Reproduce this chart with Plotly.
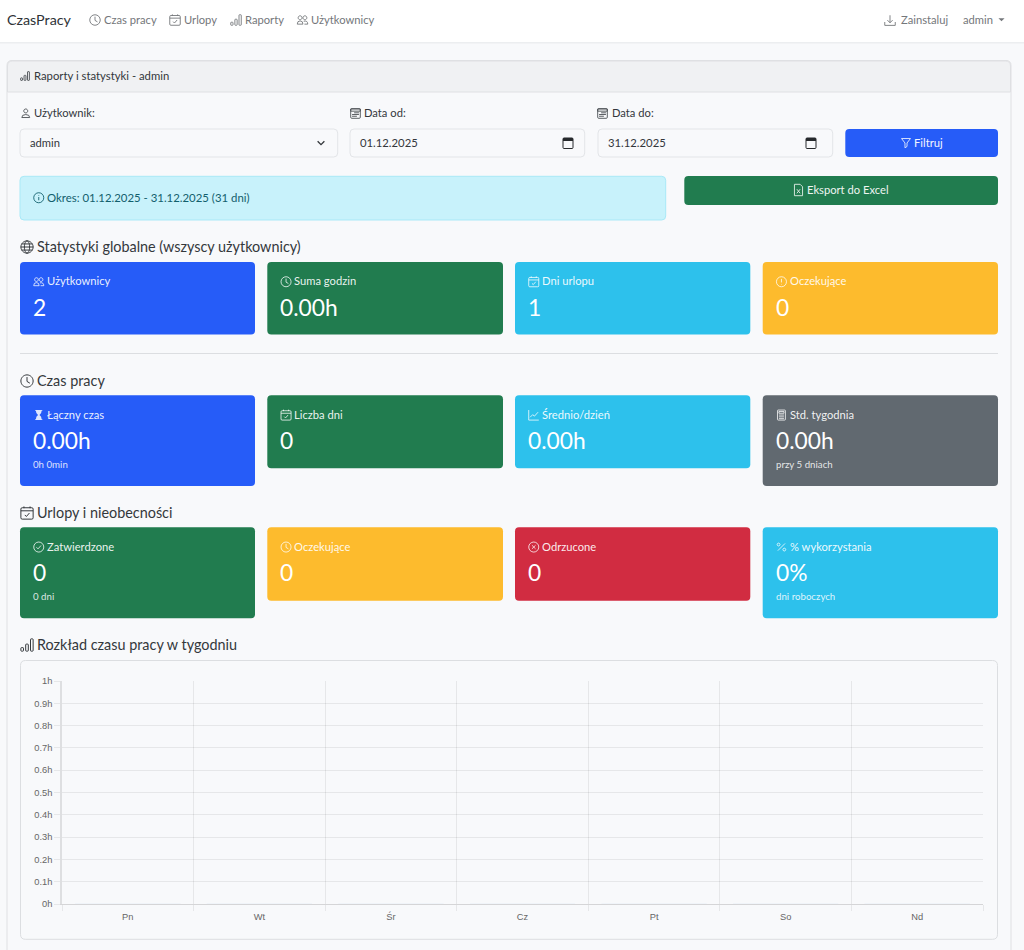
import plotly.graph_objects as go

# data of the weekly chart
weekday_labels = ["Pn", "Wt", "Śr", "Cz", "Pt", "So", "Nd"]
weekday_hours = [0, 0, 0, 0, 0, 0, 0]
hour_ticks = [0, 0.1, 0.2, 0.3, 0.4, 0.5, 0.6, 0.7, 0.8, 0.9, 1]
hour_labels = ["0h", "0.1h", "0.2h", "0.3h", "0.4h", "0.5h", "0.6h", "0.7h", "0.8h", "0.9h", "1h"]

# stat tiles, row by row
tile_titles = [
    ["Użytkownicy", "Suma godzin", "Dni urlopu", "Oczekujące"],
    ["Łączny czas", "Liczba dni", "Średnio/dzień", "Std. tygodnia"],
    ["Zatwierdzone", "Oczekujące", "Odrzucone", "% wykorzystania"],
]
tile_values = [
    ["2", "0.00h", "1", "0"],
    ["0.00h", "0", "0.00h", "0.00h"],
    ["0", "0", "0", "0%"],
]
tile_notes = [
    ["", "", "", ""],
    ["0h 0min", "", "", "przy 5 dniach"],
    ["0 dni", "", "", "dni roboczych"],
]

W, H = 1024, 950
FONT = "Lato"
CHART_FONT = "Liberation Sans"

BLUE = "#265cf8"
GREEN = "#217c4f"
CYAN = "#2dc1ec"
YELLOW = "#fdbb2d"
RED = "#d12c41"
GRAY = "#616970"
NAV_TEXT = "#74777b"
DARK = "#33373b"

tile_colors = [
    [BLUE, GREEN, CYAN, YELLOW],
    [BLUE, GREEN, CYAN, GRAY],
    [GREEN, YELLOW, RED, CYAN],
]
tile_icons = [
    ["people", "clock", "calendar", "alert"],
    ["hourglass", "calendar", "graph", "calc"],
    ["check", "clock", "cross", "percent"],
]
tile_cols = [(20, 255), (267.3, 503), (515, 750.3), (762.7, 998)]
tile_rows = [262, 395.3, 527.3]
tile_short = [72.5, 73, 73.4]
tile_tall = [72.5, 90.7, 91]

shapes = []
annotations = []


def rr_d(x0, y0, x1, y1, r):
    return (f"M {x0 + r} {y0} L {x1 - r} {y0} Q {x1} {y0} {x1} {y0 + r} "
            f"L {x1} {y1 - r} Q {x1} {y1} {x1 - r} {y1} "
            f"L {x0 + r} {y1} Q {x0} {y1} {x0} {y1 - r} "
            f"L {x0} {y0 + r} Q {x0} {y0} {x0 + r} {y0} Z")


def circ(cx, cy, r, ry=None):
    ry = r if ry is None else ry
    k = 0.5523
    return (f"M {cx - r} {cy} C {cx - r} {cy - k * ry} {cx - k * r} {cy - ry} {cx} {cy - ry} "
            f"C {cx + k * r} {cy - ry} {cx + r} {cy - k * ry} {cx + r} {cy} "
            f"C {cx + r} {cy + k * ry} {cx + k * r} {cy + ry} {cx} {cy + ry} "
            f"C {cx - k * r} {cy + ry} {cx - r} {cy + k * ry} {cx - r} {cy} Z")


def box(x0, y0, x1, y1, fill, line=None, r=3, lw=1):
    shapes.append(dict(type="path", path=rr_d(x0, y0, x1, y1, r), xref="x", yref="y",
                       fillcolor=fill, line=dict(color=line or fill, width=lw if line else 0), layer="below"))


def text(x, y, s, size=11.2, color=DARK, anchor="left", font=FONT):
    # the annotation box sits about a pixel right and low of the asked spot
    annotations.append(dict(x=x - 1, y=y - 0.8, xref="x", yref="y", text=s, showarrow=False,
                            xanchor=anchor, yanchor="middle", borderpad=0,
                            font=dict(family=font, size=size, color=color)))


# icons, drawn in a 16x16 box
ICONS = {
    "clock": [circ(8, 8, 7), "M 8 3.5 L 8 8.5 L 11.3 10.5"],
    "calendar": [rr_d(1, 2, 15, 15, 1.5), "M 1 5.5 L 15 5.5", "M 4.5 0.5 L 4.5 2.5", "M 11.5 0.5 L 11.5 2.5",
                 "M 5.5 10.2 L 7.3 12 L 10.8 8"],
    "chart": [rr_d(1, 11, 4, 15, 0.7), rr_d(6.5, 7, 9.5, 15, 0.7), rr_d(12, 1, 15, 15, 0.7)],
    "people": [circ(4.8, 5, 2.6), circ(11.2, 5, 2.6), "M 1 13.5 Q 1 9.2 4.8 9.2 Q 8.6 9.2 8.6 13.5 L 1 13.5 Z",
               "M 9.6 9.6 Q 15 8.5 15 13.5 L 10.6 13.5"],
    "person": [circ(8, 4.5, 3), "M 2 14.5 Q 2 10 8 10 Q 14 10 14 14.5 L 2 14.5 Z"],
    "dates": [rr_d(1, 1, 15, 15, 1.5), "M 1 4.6 L 15 4.6 L 15 1.4 L 1 1.4 Z", "M 6 7 L 13 7", "M 3 9.5 L 13 9.5",
              "M 3 12 L 10 12"],
    "info": [circ(8, 8, 7), "M 8 7 L 8 11.5", "M 8 4.4 L 8 5.2"],
    "alert": [circ(8, 8, 7), "M 8 4 L 8 9", "M 8 11 L 8 11.8"],
    "download": ["M 1 10 L 1 14.5 L 15 14.5 L 15 10", "M 8 1 L 8 11", "M 4.5 7.5 L 8 11 L 11.5 7.5"],
    "funnel": ["M 1.5 1.5 L 14.5 1.5 L 9.5 8 L 9.5 13 L 6.5 15 L 6.5 8 Z"],
    "excel": ["M 3 1 L 10 1 L 13 4 L 13 15 L 3 15 Z", "M 6 7 L 10 12", "M 10 7 L 6 12"],
    "globe": [circ(8, 8, 7), circ(8, 8, 3, 7), "M 1 8 L 15 8", "M 2 4.5 L 14 4.5", "M 2 11.5 L 14 11.5"],
    "graph": ["M 1 1 L 1 15 L 15 15", "M 3 11 L 6.5 7.5 L 9 9.5 L 14 4"],
    "check": [circ(8, 8, 7), "M 4.8 8.3 L 7 10.5 L 11.2 5.8"],
    "cross": [circ(8, 8, 7), "M 5.5 5.5 L 10.5 10.5", "M 10.5 5.5 L 5.5 10.5"],
    "percent": ["M 3 13 L 13 3", circ(4, 4.5, 2), circ(12, 11.5, 2)],
    "chevron": ["M 2 5 L 8 11 L 14 5"],
    "calc": [rr_d(2.5, 1, 13.5, 15, 1), "M 4.5 3 L 11.5 3 L 11.5 5.5 L 4.5 5.5 Z", "M 4.5 8 L 11.5 8",
             "M 4.5 10.5 L 11.5 10.5", "M 4.5 13 L 11.5 13"],
}
SOLID_ICONS = {
    "hourglass": ["M 3 1 L 13 1 L 13 2 L 12 2 Q 12 6 9 8 Q 12 10 12 14 L 13 14 L 13 15 L 3 15 L 3 14 L 4 14 "
                  "Q 4 10 7 8 Q 4 6 4 2 L 3 2 Z"],
    "caret": ["M 1 5 L 15 5 L 8 12 Z"],
}


def icon(name, x, y, size, color, lw=0.9):
    k = size / 16

    def place(d):
        out, is_x = [], True
        for t in d.split():
            if t.isalpha():
                out.append(t)
                is_x = True
            else:
                out.append(str(x + float(t) * k if is_x else y + float(t) * k))
                is_x = not is_x
        return " ".join(out)

    for d in ICONS.get(name, []):
        shapes.append(dict(type="path", path=place(d), xref="x", yref="y", fillcolor="rgba(0,0,0,0)",
                           line=dict(color=color, width=lw), layer="below"))
    for d in SOLID_ICONS.get(name, []):
        shapes.append(dict(type="path", path=place(d), xref="x", yref="y", fillcolor=color,
                           line=dict(color=color, width=0), layer="below"))


# navbar
box(-2, -2, W + 2, 42, "#ffffff", r=0)
box(-2, 42, W + 2, 43, "#eceef0", r=0)
box(-2, 43, W + 2, 44, "#f2f3f5", r=0)
text(7, 20.5, "CzasPracy", 14.3, "#2e3236")
nav_items = [("clock", 89, "Czas pracy", 104), ("calendar", 169, "Urlopy", 184),
             ("chart", 230, "Raporty", 245), ("people", 296.5, "Użytkownicy", 311)]
for ic, ix, label, tx in nav_items:
    icon(ic, ix, 14, 12, NAV_TEXT)
    text(tx, 20.5, label, 11.2, NAV_TEXT)
icon("download", 884, 14.5, 12, NAV_TEXT)
text(901, 20.5, "Zainstaluj", 11.2, NAV_TEXT)
text(963, 20.5, "admin", 11.2, NAV_TEXT)
icon("caret", 998, 16, 7, NAV_TEXT)

# main card
box(7, 60.5, 1011, 980, "#f8f9fb", "#dfe0e3", r=5)
shapes.append(dict(type="path", path="M 7.5 92 L 7.5 66 Q 7.5 61 12.5 61 L 1005.5 61 Q 1010.5 61 1010.5 66 L 1010.5 92 Z",
                   xref="x", yref="y", fillcolor="#f0f1f3", line=dict(color="#dfe0e3", width=1), layer="below"))
icon("chart", 20, 71, 10, "#4a4e52")
text(34, 76, "Raporty i statystyki - admin", 11.3, DARK)

# filter row
icon("person", 20.5, 108, 10.5, "#4a4e52")
text(34, 113.5, "Użytkownik:", 11.2)
icon("dates", 350, 108, 11, "#4a4e52")
text(364, 113.5, "Data od:", 11.2)
icon("dates", 597, 108, 11, "#4a4e52")
text(612, 113.5, "Data do:", 11.2)

box(20, 129, 337.7, 157, "#f8f9fb", "#e3e5e8", r=4)
box(350, 129, 584.7, 157, "#f8f9fb", "#e3e5e8", r=4)
box(598, 129, 832.7, 157, "#f8f9fb", "#e3e5e8", r=4)
text(30, 143, "admin", 11.2)
icon("chevron", 316.5, 138.5, 9, DARK, 1.3)
text(360, 143, "01.12.2025", 11.3)
text(608, 143, "31.12.2025", 11.3)
for ix in (563, 806):
    box(ix, 138, ix + 10, 148.5, "rgba(0,0,0,0)", "#26292c", r=1, lw=1)
    box(ix, 138, ix + 10, 141, "#26292c", r=0.5)
box(845.3, 129, 998, 157, BLUE, r=4)
icon("funnel", 900.5, 137.5, 11, "#e6ecfd")
text(914, 143, "Filtruj", 11.2, "#f2f5fe")

box(20, 176.3, 665.7, 220, "#c8f2fb", "#a9e9f7", r=4)
icon("info", 33, 192, 11.5, "#12606d")
text(47, 198, "Okres: 01.12.2025 - 31.12.2025 (31 dni)", 11.4, "#12606d")
box(684.3, 176, 998, 205, GREEN, r=4)
icon("excel", 792, 183.5, 13, "#e3efe8")
text(807, 190, "Eksport do Excel", 11.2, "#eef5f1")

# section headings
sections = [("globe", 247, "Statystyki globalne (wszyscy użytkownicy)"), ("clock", 381, "Czas pracy"),
            ("calendar", 513, "Urlopy i nieobecności"), ("chart", 645, "Rozkład czasu pracy w tygodniu")]
for ic, sy, label in sections:
    icon(ic, 20, sy - 7, 14, "#34383c", 1)
    text(37, sy, label, 14.4, "#34383c")
box(20, 353, 998, 354, "#dcdee1", r=0)

# tiles
for r, top in enumerate(tile_rows):
    for c, (x0, x1) in enumerate(tile_cols):
        has_note = tile_notes[r][c] != ""
        height = tile_tall[r] if has_note else tile_short[r]
        box(x0, top, x1, top + height, tile_colors[r][c], r=4)
        icon(tile_icons[r][c], x0 + 13, top + 14, 11.5, "rgba(255,255,255,0.85)")
        text(x0 + 27, top + 19.5, tile_titles[r][c], 11.2, "rgba(255,255,255,0.92)")
        text(x0 + 13, top + 45.5, tile_values[r][c], 22.8, "#ffffff")
        if has_note:
            text(x0 + 13, top + 69, tile_notes[r][c], 9.7, "rgba(255,255,255,0.85)")

# chart card
box(20.5, 660.5, 997.5, 939.3, "rgba(0,0,0,0)", "#dcdee1", r=5)

fig = go.Figure()
# empty trace keeps the pixel-scaled page axes alive, everything on the page hangs on them
fig.add_trace(go.Scatter(x=[], y=[], xaxis="x", yaxis="y", hoverinfo="skip"))
fig.add_trace(go.Bar(x=weekday_labels, y=weekday_hours, xaxis="x2", yaxis="y2",
                     marker_color="rgba(37,92,248,0.6)", hoverinfo="skip"))

grid = "rgba(0,0,0,0.07)"
fig.update_layout(
    width=W, height=H, margin=dict(l=0, r=0, t=0, b=0, autoexpand=False),
    paper_bgcolor="#f8f9fb", plot_bgcolor="rgba(0,0,0,0)",
    showlegend=False, shapes=shapes, annotations=annotations,
    xaxis=dict(domain=[0, 1], range=[0, W], visible=False, fixedrange=True),
    yaxis=dict(domain=[0, 1], range=[H, 0], visible=False, fixedrange=True),
    xaxis2=dict(domain=[62 / W, 983 / W], anchor="y2", type="category", range=[-0.5, 6.5], tickson="boundaries",
                ticks="outside", ticklen=6, tickcolor=grid, gridcolor=grid, showgrid=True, showline=True,
                linecolor="rgba(0,0,0,0.14)", fixedrange=True, ticklabelstandoff=4,
                tickfont=dict(family=CHART_FONT, size=9.3, color="#666666")),
    yaxis2=dict(domain=[1 - 904 / H, 1 - 681 / H], anchor="x2", range=[0, 1], tickvals=hour_ticks, ticktext=hour_labels,
                ticks="outside", ticklen=6, tickcolor=grid, gridcolor=grid, showgrid=True, showline=True,
                linecolor="rgba(0,0,0,0.1)", linewidth=1.5, zeroline=False, fixedrange=True,
                tickfont=dict(family=CHART_FONT, size=9.3, color="#666666")),
)

fig.write_html("out.html", config={"displayModeBar": False}, post_script="document.body.style.margin='0';")
